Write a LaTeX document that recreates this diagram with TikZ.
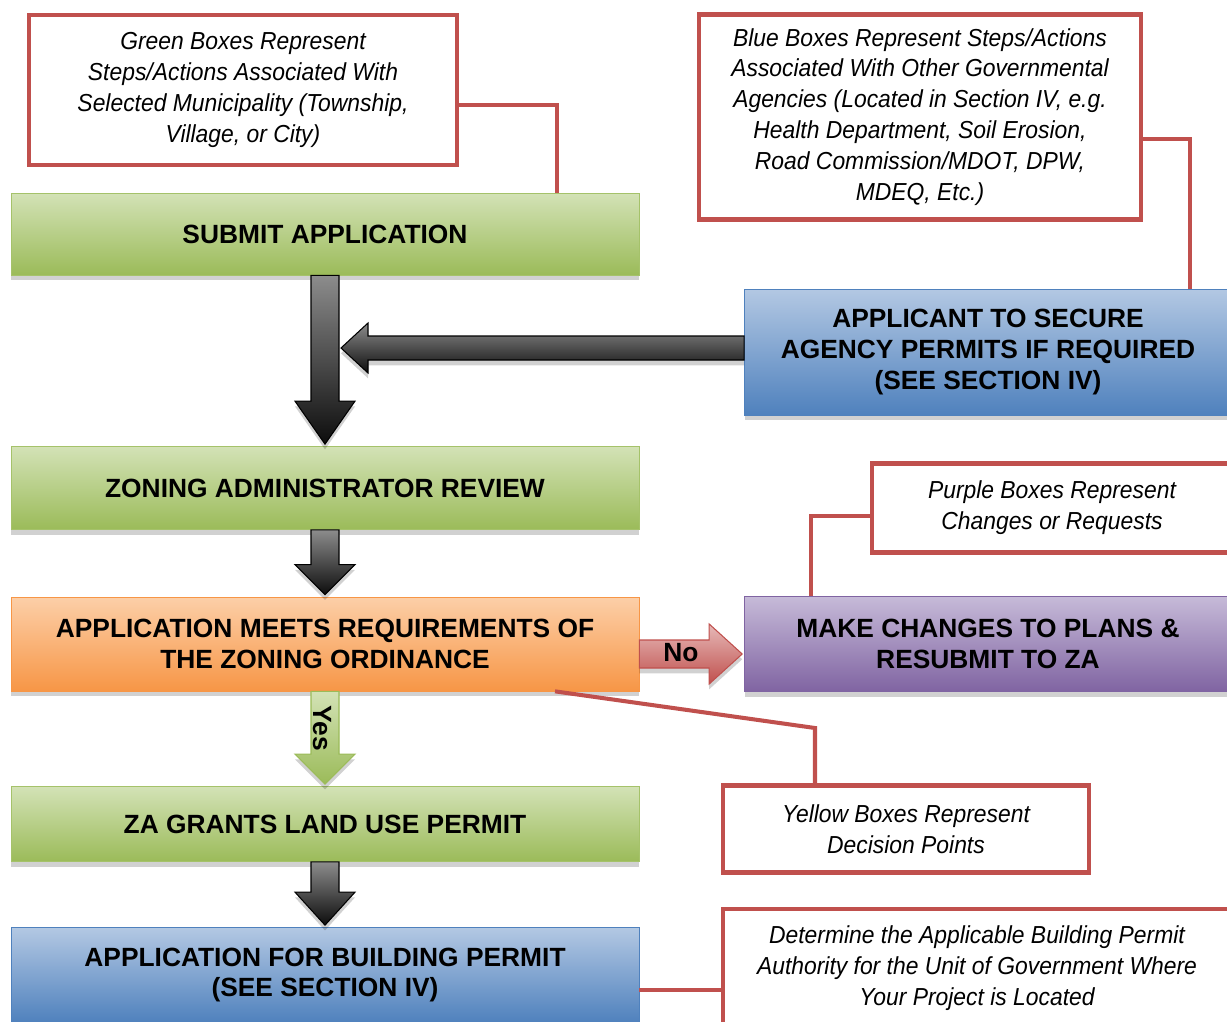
\documentclass[tikz,border=0pt]{standalone}
\usepackage{fontspec}
\setmainfont{Liberation Sans}
\newfontfamily\legendfont[FakeStretch=0.93]{Liberation Sans}
\usepackage{tikz}
\usetikzlibrary{calc,shadows}

\definecolor{grnTop}{HTML}{D3E2B6}
\definecolor{grnBot}{HTML}{9BBB59}
\definecolor{bluTop}{HTML}{B3C8E3}
\definecolor{bluBot}{HTML}{4F81BD}
\definecolor{orgTop}{HTML}{FCCFA8}
\definecolor{orgBot}{HTML}{F79646}
\definecolor{prpTop}{HTML}{C6BAD8}
\definecolor{prpBot}{HTML}{8064A2}
\definecolor{redLine}{HTML}{C0504D}
\definecolor{redTop}{HTML}{E6B9B8}

\tikzset{
  boxshadow/.style={drop shadow={shadow xshift=0pt, shadow yshift=-3pt, fill=black, opacity=0.18}},
  flowbox/.style={rectangle, boxshadow, inner sep=2pt, align=center,
    font=\bfseries\fontsize{15}{17.6}\selectfont},
  stepbox/.style={flowbox, draw=grnBot!90, top color=grnTop, bottom color=grnBot,
    minimum width=12.56cm},
  agencybox/.style={flowbox, draw=bluBot, top color=bluTop, bottom color=bluBot},
  decisionbox/.style={flowbox, draw=orgBot, top color=orgTop, bottom color=orgBot,
    minimum width=12.56cm},
  changebox/.style={flowbox, draw=prpBot, top color=prpTop, bottom color=prpBot},
  legendbox/.style={rectangle, draw=redLine, line width=2.3pt, fill=white, align=center,
    font=\legendfont\itshape\fontsize{14}{17.6}\selectfont},
  legline/.style={draw=redLine, line width=2.3pt},
  blackarrow/.style={draw=black, line width=0.6pt, top color=black!45, bottom color=black!95, boxshadow},
  yesarrow/.style={draw=grnBot, line width=0.6pt, top color=grnTop, bottom color=grnBot, boxshadow},
  noarrow/.style={draw=redLine, line width=0.6pt, top color=redTop, bottom color=redLine, boxshadow},
}

% #1 from, #2 to, #3 head length, #4 style
\newcommand{\downblock}[4]{%
  \path[#4] ($(#1.south)+(-14,0)$) -- ($(#2.north)+(-14,-#3-2)$) -- ($(#2.north)+(-30,-#3-2)$)
    -- ($(#2.north)+(0,-2)$) -- ($(#2.north)+(30,-#3-2)$) -- ($(#2.north)+(14,-#3-2)$)
    -- ($(#1.south)+(14,0)$) -- cycle;}

\begin{document}
\begin{tikzpicture}[x=0.02cm, y=-0.02cm]
    \useasboundingbox (0,0) rectangle (1227,1021);
    \clip (0,0) rectangle (1227,1021);

    % main steps
    \node[stepbox, minimum height=1.64cm] (submit) at (325,234) {SUBMIT APPLICATION};
    \node[stepbox, minimum height=1.66cm] (review) at (325,488) {ZONING ADMINISTRATOR REVIEW};
    \node[decisionbox, minimum height=1.88cm] (meets) at (325,644) {APPLICATION MEETS REQUIREMENTS OF\\THE ZONING ORDINANCE};
    \node[stepbox, minimum height=1.5cm] (grants) at (325,824) {ZA GRANTS LAND USE PERMIT};
    \node[agencybox, minimum width=12.56cm, minimum height=1.9cm] (building) at (325,975) {APPLICATION FOR BUILDING PERMIT\\(SEE SECTION IV)};

    \node[agencybox, minimum width=9.74cm, minimum height=2.52cm] (applicant) at (988,352) {APPLICANT TO SECURE\\AGENCY PERMITS IF REQUIRED\\(SEE SECTION IV)};
    \node[changebox, minimum width=9.74cm, minimum height=1.9cm] (changes) at (988,644) {MAKE CHANGES TO PLANS \&\\RESUBMIT TO ZA};

    % legends
    \node[legendbox, minimum width=8.56cm, minimum height=3.0cm] (gleg) at (243,90) {Green Boxes Represent\\Steps/Actions Associated With\\Selected Municipality (Township,\\Village, or City)};
    \node[legendbox, minimum width=8.86cm, minimum height=4.1cm] (bleg) at (920,117) {Blue Boxes Represent Steps/Actions\\Associated With Other Governmental\\Agencies (Located in Section IV, e.g.\\Health Department, Soil Erosion,\\Road Commission/MDOT, DPW,\\MDEQ, Etc.)};
    \node[legendbox, minimum width=7.22cm, minimum height=1.78cm] (pleg) at (1052,508) {Purple Boxes Represent\\Changes or Requests};
    \node[legendbox, minimum width=7.34cm, minimum height=1.74cm] (yleg) at (906,829) {Yellow Boxes Represent\\Decision Points};
    \node[legendbox, minimum width=10.18cm, minimum height=2.36cm] (dleg) at (977,968) {Determine the Applicable Building Permit\\Authority for the Unit of Government Where\\Your Project is Located};

    % legend connectors
    \draw[legline] (gleg.east |- 0,105) -| (submit.north -| 557,0);
    \draw[legline] (bleg.east |- 0,139) -| (applicant.north -| 1190,0);
    \draw[legline] (pleg.west |- 0,516) -| (changes.north -| 811,0);
    \draw[legline] (meets.south -| 555,0) -- (815,728) -- (yleg.north -| 815,0);
    \draw[legline] (building.east |- 0,990) -- (dleg.west |- 0,990);

    % block arrows
    \downblock{submit}{review}{43}{blackarrow}
    \coordinate (tip) at ($(submit.south |- applicant.west)+(16,-4)$);
    \path[blackarrow] ($(applicant.west)+(0,-16)$) -- ($(tip)+(27,-12)$) -- ($(tip)+(27,-25)$) -- (tip)
        -- ($(tip)+(27,25)$) -- ($(tip)+(27,12)$) -- ($(applicant.west)+(0,8)$) -- cycle;
    \downblock{review}{meets}{30}{blackarrow}
    \downblock{meets}{grants}{30}{yesarrow}
    \downblock{grants}{building}{33}{blackarrow}
    \path[noarrow] ($(meets.east)+(0,-4)$) -- ($(changes.west)+(-35,-4)$) -- ($(changes.west)+(-35,-20)$)
        -- ($(changes.west)+(-2,10)$) -- ($(changes.west)+(-35,40)$) -- ($(changes.west)+(-35,24)$)
        -- ($(meets.east)+(0,24)$) -- cycle;

    \node[font=\bfseries\fontsize{15}{17.6}\selectfont] (no) at (681,653) {No};
    \node[font=\bfseries\fontsize{15}{17.6}\selectfont, rotate=-90] (yes) at (322,728) {Yes};
\end{tikzpicture}
\end{document}
